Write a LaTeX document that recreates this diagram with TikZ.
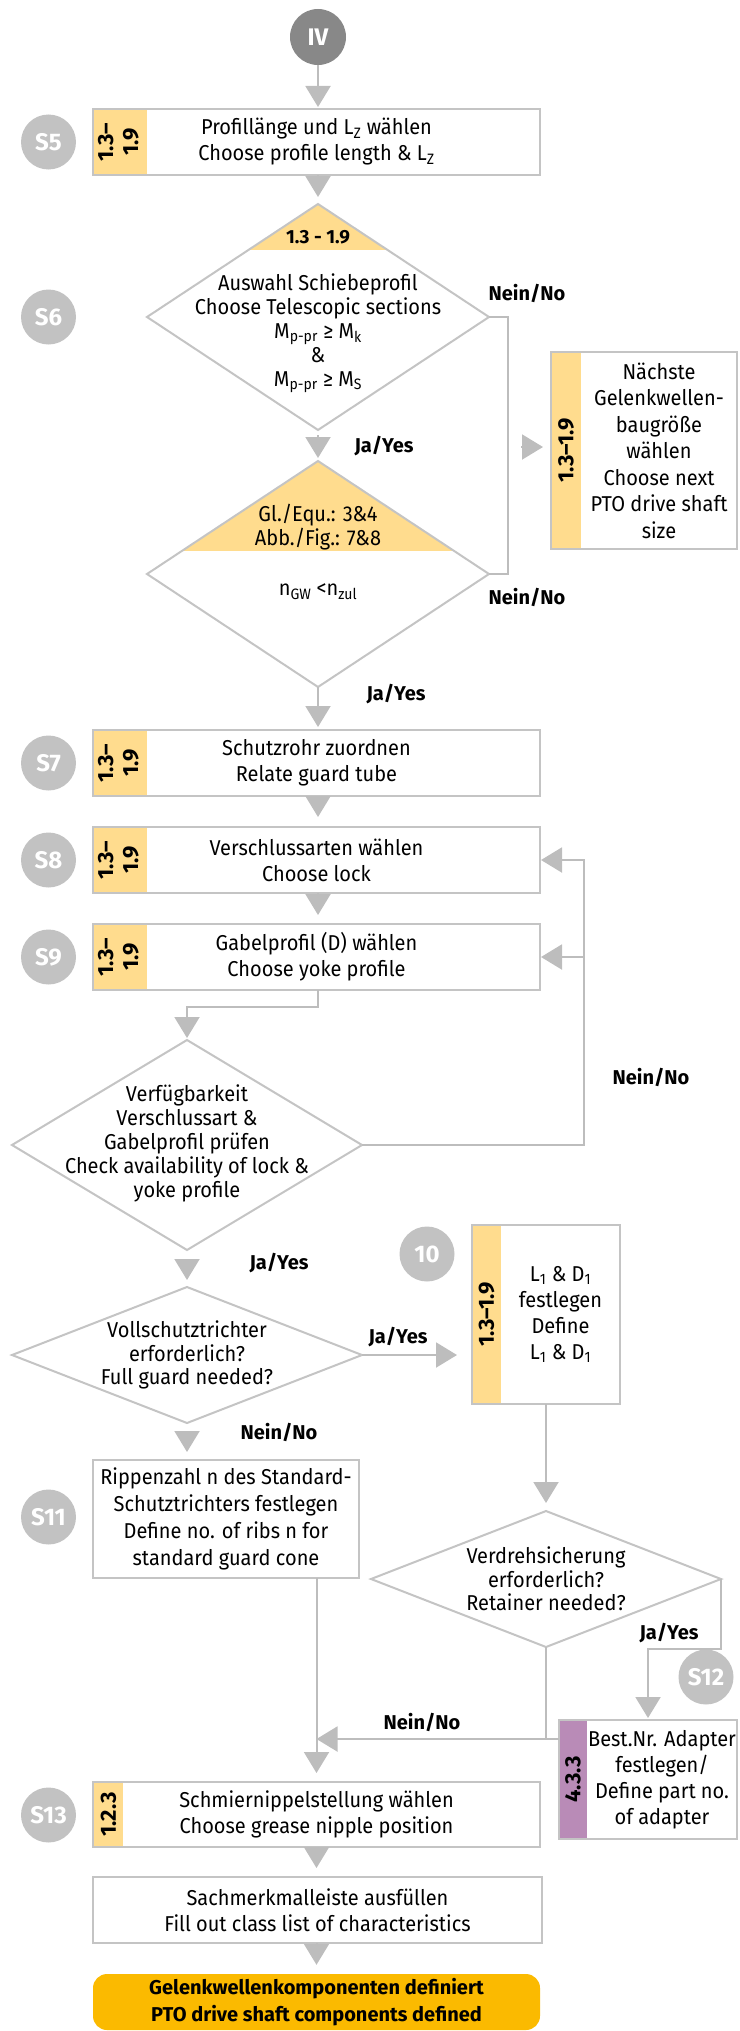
\documentclass[tikz,border=0pt]{standalone}
\usepackage{fontspec}
\setmainfont{Fira Sans}[FakeStretch=0.93, BoldFeatures={FakeStretch=1}]
\usetikzlibrary{shapes.geometric,arrows.meta,calc,fit}
\definecolor{lgray}{HTML}{BDBDBD}
\definecolor{bgray}{HTML}{C4C4C4}
\definecolor{cgray}{HTML}{C2C2C2}
\definecolor{dgray}{HTML}{888888}
\definecolor{ystrip}{HTML}{FFDC8E}
\definecolor{pstrip}{HTML}{B98BB7}
\definecolor{fin}{HTML}{FBBA00}
\tikzset{
  every node/.style={font=\fontsize{21.5}{26}\selectfont},
  box/.style={draw=bgray, line width=2pt, fill=white, inner sep=0pt, outer sep=0pt, align=center},
  wbox/.style={fill=white, inner sep=0pt, outer sep=0pt, align=center},
  stripnode/.style={fill=ystrip, inner sep=0pt, outer sep=0pt, font=\bfseries\fontsize{22}{25}\selectfont},
  frame/.style={draw=bgray, line width=2pt, inner sep=0pt, outer sep=0pt},
  dia/.style={diamond, draw=bgray, line width=2pt, fill=white, inner sep=0pt, outer sep=0pt},
  stepcircle/.style={circle, fill=cgray, text=white, minimum size=55pt, inner sep=0pt, font=\bfseries\fontsize{24}{24}\selectfont},
  conn/.style={draw=lgray, line width=2pt},
  arr/.style={conn, -{Triangle[width=25pt,length=21pt]}},
  lbl/.style={inner sep=0pt, font=\bfseries\fontsize{20}{24}\selectfont},
  txt/.style={align=center, inner sep=0pt},
}
\newcommand{\twolines}[2]{\rotatebox{90}{\begin{tabular}{@{}c@{}}#1\\#2\end{tabular}}}
\begin{document}
\begin{tikzpicture}[x=1pt,y=-1pt]
\useasboundingbox (0,0) rectangle (739,2031);

% start
\node[circle, fill=dgray, text=white, minimum size=56pt, inner sep=0pt, font=\bfseries\fontsize{24}{24}\selectfont] (iv) at (318,37) {IV};

% S5
\node[box, minimum width=447pt, minimum height=66pt] (s5) at (316.5,142) {Profillänge und L\textsubscript{Z} wählen\\Choose profile length \& L\textsubscript{Z}};
\node[stripnode, minimum width=53pt, minimum height=64pt, anchor=north west] (s5s) at ([xshift=1pt,yshift=-1pt]s5.north west) {\twolines{1.3–}{1.9}};
\node[stepcircle] (c5) at (48.5,142) {S5};

% S6 diamond
\node[dia, minimum width=342pt, minimum height=226pt,
  path picture={\fill[ystrip] (path picture bounding box.north west) rectangle ([yshift=-46pt]path picture bounding box.north east);}] (d6) at (318,317) {};
\node[lbl, font=\bfseries\fontsize{19}{24}\selectfont] (d6r) at (318,237) {1.3 - 1.9};
\node[txt, font=\fontsize{21.5}{24}\selectfont] (d6t) at (318,333) {Auswahl Schiebeprofil\\Choose Telescopic sections\\M\textsubscript{p-pr} ≥ M\textsubscript{k}\\\&\\M\textsubscript{p-pr} ≥ M\textsubscript{S}};
\node[stepcircle] (c6) at (48.5,317) {S6};

% S6b diamond
\node[dia, minimum width=342pt, minimum height=226pt,
  path picture={\fill[ystrip] (path picture bounding box.north west) rectangle ([yshift=-90pt]path picture bounding box.north east);}] (d7) at (318,574) {};
\node[txt, font=\fontsize{21.5}{24}\selectfont] (d7r) at (318,527) {Gl./Equ.: 3\&4\\Abb./Fig.: 7\&8};
\node[txt] (d7t) at (318,592) {n\textsubscript{GW} <n\textsubscript{zul}};

% next size box
\node[wbox, minimum width=156pt, minimum height=197pt, font=\fontsize{21.5}{26.5}\selectfont] (nx) at (659,450.5) {Nächste\\Gelenkwellen-\\baugröße\\wählen\\Choose next\\PTO drive shaft\\size};
\node[stripnode, minimum width=30pt, minimum height=197pt, anchor=east] (nxs) at (nx.west) {\rotatebox{90}{1.3–1.9}};
\node[frame, fit=(nxs)(nx)] (nxb) {};

% S7, S8, S9
\node[box, minimum width=447pt, minimum height=66pt] (s7) at (316.5,763) {Schutzrohr zuordnen\\Relate guard tube};
\node[stripnode, minimum width=53pt, minimum height=64pt, anchor=north west] (s7s) at ([xshift=1pt,yshift=-1pt]s7.north west) {\twolines{1.3–}{1.9}};
\node[stepcircle] (c7) at (48.5,763) {S7};

\node[box, minimum width=447pt, minimum height=66pt] (s8) at (316.5,860) {Verschlussarten wählen\\Choose lock};
\node[stripnode, minimum width=53pt, minimum height=64pt, anchor=north west] (s8s) at ([xshift=1pt,yshift=-1pt]s8.north west) {\twolines{1.3–}{1.9}};
\node[stepcircle] (c8) at (48.5,860) {S8};

\node[box, minimum width=447pt, minimum height=66pt] (s9) at (316.5,957) {Gabelprofil (D) wählen\\Choose yoke profile};
\node[stripnode, minimum width=53pt, minimum height=64pt, anchor=north west] (s9s) at ([xshift=1pt,yshift=-1pt]s9.north west) {\twolines{1.3–}{1.9}};
\node[stepcircle] (c9) at (48.5,957) {S9};

% availability diamond
\node[dia, minimum width=350pt, minimum height=210pt] (d9) at (187,1145) {};
\node[txt, font=\fontsize{21.5}{24}\selectfont] (d9t) at (187,1143) {Verfügbarkeit\\Verschlussart \&\\Gabelprofil prüfen\\Check availability of lock \&\\yoke profile};

% full guard diamond
\node[dia, minimum width=350pt, minimum height=136pt] (d10) at (187,1355) {};
\node[txt, font=\fontsize{21.5}{23.5}\selectfont] (d10t) at (187,1355) {Vollschutztrichter\\erforderlich?\\Full guard needed?};

% box 10
\node[wbox, minimum width=119pt, minimum height=179pt] (b10) at (560.5,1314.5) {L\textsubscript{1} \& D\textsubscript{1}\\festlegen\\Define\\L\textsubscript{1} \& D\textsubscript{1}};
\node[stripnode, minimum width=29pt, minimum height=179pt, anchor=east] (b10s) at (b10.west) {\rotatebox{90}{1.3–1.9}};
\node[frame, fit=(b10s)(b10)] (b10b) {};
\node[stepcircle] (c10) at (427,1254) {10};

% S11
\node[box, minimum width=266pt, minimum height=118pt, font=\fontsize{21.5}{27}\selectfont] (s11) at (226,1519) {Rippenzahl n des Standard-\\Schutztrichters festlegen\\Define no. of ribs n for\\standard guard cone};
\node[stepcircle] (c11) at (48.5,1517) {S11};

% retainer diamond
\node[dia, minimum width=350pt, minimum height=136pt] (d12) at (546,1579) {};
\node[txt, font=\fontsize{21.5}{23.5}\selectfont] (d12t) at (546,1579) {Verdrehsicherung\\erforderlich?\\Retainer needed?};

% S12 box
\node[wbox, minimum width=150pt, minimum height=119pt] (s12) at (662,1779.5) {Best.Nr. Adapter\\festlegen/\\Define part no.\\of adapter};
\node[stripnode, fill=pstrip, minimum width=28pt, minimum height=119pt, anchor=east] (s12s) at (s12.west) {\rotatebox{90}{4.3.3}};
\node[frame, fit=(s12s)(s12)] (s12b) {};
\node[stepcircle] (c12) at (706,1677) {S12};

% S13
\node[box, minimum width=447pt, minimum height=65pt] (s13) at (316.5,1814.5) {Schmiernippelstellung wählen\\Choose grease nipple position};
\node[stripnode, minimum width=29pt, minimum height=63pt, anchor=north west] (s13s) at ([xshift=1pt,yshift=-1pt]s13.north west) {\rotatebox{90}{1.2.3}};
\node[stepcircle] (c13) at (48.5,1815) {S13};

% fill out box
\node[box, minimum width=449pt, minimum height=66pt] (fo) at (317.5,1910) {Sachmerkmalleiste ausfüllen\\Fill out class list of characteristics};

% final
\node[fill=fin, rounded corners=14pt, minimum width=447pt, minimum height=56pt, inner sep=0pt, align=center, font=\bfseries\fontsize{20}{27}\selectfont] (end) at (316.5,2002) {Gelenkwellenkomponenten definiert\\PTO drive shaft components defined};

% connectors
\draw[arr, shorten >=2pt] (iv.south) -- (iv.south |- s5.north);
\draw[arr, shorten >=7pt] (s5.south -| d6.north) -- (d6.north);
\draw[arr, shorten <=5pt, shorten >=3pt] (d6.south) -- (d7.north);
\draw[arr, shorten >=3pt] (d7.south) -- (d7.south |- s7.north);
\draw[conn] (d6.east) -- ++(19pt,0pt) coordinate (j0) |- (d7.east);
\coordinate (j1) at (j0 |- 0,447);
\draw[arr, shorten <=13pt, shorten >=8pt] (j1) -- (j1 -| nxb.west);
\draw[arr, shorten >=10pt] (s7.south -| iv.south) -- (iv.south |- s8.north);
\draw[arr, shorten >=9pt] (s8.south -| iv.south) -- (iv.south |- s9.north);
\draw[arr, shorten >=2pt] (s9.south -| iv.south) -- ++(0pt,-17pt) -| (d9.north);
\coordinate (fb) at (584,1145);
\draw[arr, shorten >=1pt] (d9.east) -- (fb) |- (s8.east);
\draw[arr, shorten >=1pt] (fb |- s9.east) -- (s9.east);
\draw[arr, shorten <=9pt, shorten >=7pt] (d9.south) -- (d10.north);
\draw[arr, shorten >=15pt] (d10.east) -- (d10.east -| b10b.west);
\draw[arr, shorten <=8pt, shorten >=8pt] (d10.south) -- (d10.south |- s11.north);
\draw[arr, shorten >=8pt] (b10b.south -| d12.north) -- (d12.north);
\draw[arr, shorten >=2pt] (d12.east) -- ++(0pt,-70pt) -| (s12b.north);
\coordinate (jn) at (d12.south |- 0,1739);
\draw[conn] (d12.south) -- (jn);
\draw[arr] (s12b.west |- jn) -- (s13.north |- jn);
\draw[arr, shorten >=9pt] (s11.south -| s13.north) -- (s13.north);
\draw[arr, shorten >=9pt] (s13.south) -- (s13.south |- fo.north);
\draw[arr, shorten >=9pt] (fo.south -| s13.south) -- (s13.south |- end.north);

% labels
\node[lbl] (l1) at (527,293) {Nein/No};
\node[lbl] (l2) at (384,446) {Ja/Yes};
\node[lbl] (l3) at (527,597) {Nein/No};
\node[lbl] (l4) at (396,694) {Ja/Yes};
\node[lbl] (l5) at (651,1077) {Nein/No};
\node[lbl] (l6) at (279,1263) {Ja/Yes};
\node[lbl] (l7) at (398,1337) {Ja/Yes};
\node[lbl] (l8) at (279,1432) {Nein/No};
\node[lbl] (l9) at (669,1633) {Ja/Yes};
\node[lbl] (l10) at (422,1722) {Nein/No};
\end{tikzpicture}
\end{document}
